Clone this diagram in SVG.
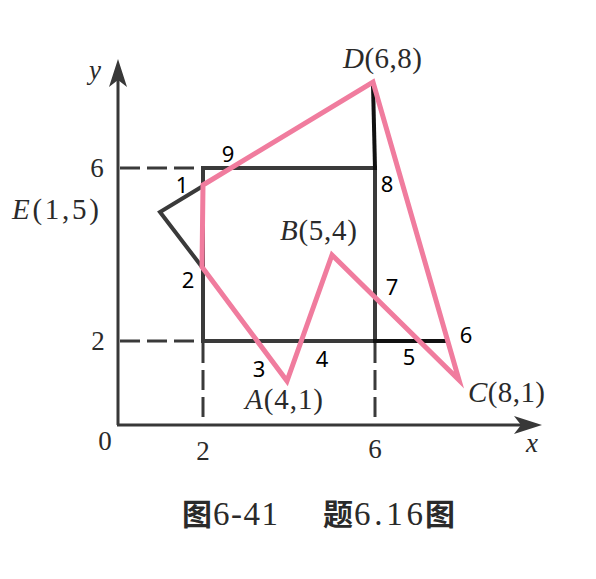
<svg xmlns="http://www.w3.org/2000/svg" width="596" height="579" viewBox="0 0 596 579">
<style>
.ax{stroke:#383838;stroke-width:3;fill:none}
.dash{stroke:#3a3a3a;stroke-width:3;fill:none;stroke-dasharray:20 7}
.rect{stroke:#3a3a3a;stroke-width:4;fill:none}
.blk{stroke:#111;stroke-width:4;fill:none;stroke-linecap:square}
.pink{stroke:#F07C9E;stroke-width:5;fill:none;stroke-linejoin:miter}
.num{font-family:"Liberation Serif",serif;font-size:27px;fill:#2a2a2a}
.lab{font-family:"Liberation Serif",serif;font-size:29px;fill:#2a2a2a}
.it{font-style:italic}
.idx{font-family:"Noto Sans","Open Sans",sans-serif;font-size:22px;fill:#000}
.cap{font-family:"Liberation Serif","Noto Sans CJK SC",serif;font-size:33px;fill:#2a2a2a}
.cj{font-family:"Noto Sans CJK SC",sans-serif;font-weight:bold;font-size:30px;fill:#2a2a2a}
</style>
<rect width="596" height="579" fill="#ffffff"/>
<g id="axes">
<line class="ax" x1="118" y1="425" x2="118" y2="76"/>
<line class="ax" x1="117" y1="425" x2="528" y2="425"/>
<path d="M118,59 L127,87 L118,80 L109,87 Z" fill="#383838"/>
<path d="M542,425 L514,416 L521,425 L514,434 Z" fill="#383838"/>
</g>
<g id="dashes">
<line class="dash" x1="120" y1="168" x2="203" y2="168"/>
<line class="dash" x1="120" y1="341" x2="203" y2="341"/>
<line class="dash" x1="203" y1="343" x2="203" y2="425"/>
<line class="dash" x1="375" y1="343" x2="375" y2="425"/>
</g>
<g id="clip-window">
<path class="rect" d="M203,168 H375 V341 H203 Z"/>
</g>
<g id="outside-parts">
<polyline class="rect" points="203,186 160,212 202,267"/>
<line class="blk" x1="373" y1="84" x2="375" y2="168"/>
<line class="blk" x1="375" y1="341" x2="446" y2="341"/>
</g>
<g id="result-polygon">
<polygon class="pink" points="203,185 373,82 459,380 332,255 287,381 202,267"/>
</g>
<g id="axis-labels">
<text class="num" x="97" y="177" text-anchor="middle">6</text>
<text class="num" x="98" y="350" text-anchor="middle">2</text>
<text class="num" x="105" y="450" text-anchor="middle">0</text>
<text class="num" x="203" y="460" text-anchor="middle">2</text>
<text class="num" x="375" y="458" text-anchor="middle">6</text>
<text class="num it" x="532" y="452" text-anchor="middle">x</text>
<text class="num it" x="95" y="79" text-anchor="middle">y</text>
</g>
<g id="point-labels">
<text class="lab" x="343" y="68" textLength="79"><tspan class="it">D</tspan>(6,8)</text>
<text class="lab" x="12" y="219" textLength="87"><tspan class="it">E</tspan>(1,5)</text>
<text class="lab" x="280" y="240" textLength="77"><tspan class="it">B</tspan>(5,4)</text>
<text class="lab" x="245" y="409" textLength="78"><tspan class="it">A</tspan>(4,1)</text>
<text class="lab" x="468" y="402" textLength="77"><tspan class="it">C</tspan>(8,1)</text>
</g>
<g id="index-labels" text-anchor="middle">
<text class="idx" x="228" y="162">9</text>
<text class="idx" x="182" y="193">1</text>
<text class="idx" x="188" y="288">2</text>
<text class="idx" x="259" y="377">3</text>
<text class="idx" x="322" y="367">4</text>
<text class="idx" x="409" y="365">5</text>
<text class="idx" x="466" y="343">6</text>
<text class="idx" x="392" y="295">7</text>
<text class="idx" x="387" y="192">8</text>
</g>
<g id="caption">
<text class="cj" x="182" y="525">图</text>
<text class="cap" x="213" y="525" textLength="65">6-41</text>
<text class="cj" x="323" y="525">题</text>
<text class="cap" x="354" y="525" textLength="69">6.16</text>
<text class="cj" x="425" y="525">图</text>
</g>
</svg>
